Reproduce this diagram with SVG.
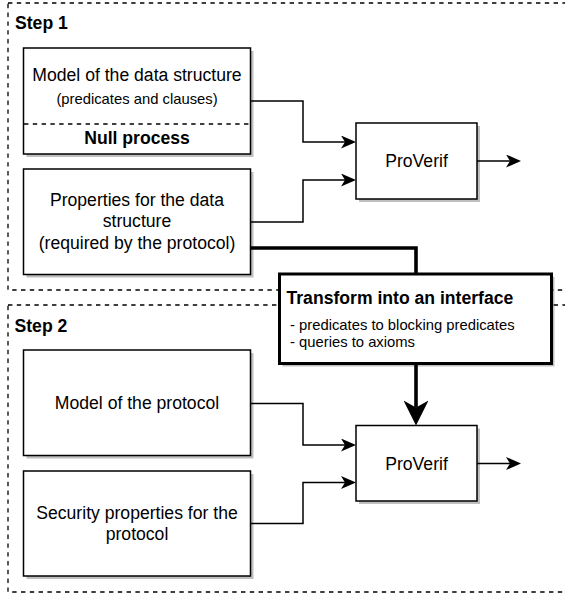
<svg xmlns="http://www.w3.org/2000/svg" width="565" height="594" viewBox="0 0 565 594">
<style>
  text { font-family: "Liberation Sans", Arial, sans-serif; fill: #000; }
  .t { font-size: 17.6px; text-anchor: middle; }
  .s { font-size: 14.8px; text-anchor: middle; }
  .b { font-weight: bold; }
  .box { fill: #fff; stroke: #000; stroke-width: 1.5; }
  .shadow { fill: #000; fill-opacity: 0.25; }
  .cont { fill: none; stroke: #000; stroke-width: 1.3; stroke-dasharray: 4.4 4.4; }
  .thin { fill: none; stroke: #000; stroke-width: 1.5; }
  .thick { fill: none; stroke: #000; stroke-width: 3.6; }
</style>
<defs>
  <marker id="arr" markerUnits="userSpaceOnUse" markerWidth="15" markerHeight="13" viewBox="0 0 15 13" refX="4" refY="6.5" orient="auto">
    <path d="M0,0 L15,6.5 L0,13 L4,6.5 Z" fill="#000"/>
  </marker>
  <marker id="arrBig" markerUnits="userSpaceOnUse" markerWidth="25" markerHeight="25" viewBox="0 0 25 25" refX="7" refY="12.5" orient="auto">
    <path d="M0,0 L25,12.5 L0,25 L7,12.5 Z" fill="#000"/>
  </marker>
</defs>
<rect width="565" height="594" fill="#fff"/>

<g id="step1">
  <rect class="cont" x="8" y="3" width="600" height="287"/>
  <text class="b" x="15" y="28.5" font-size="17.6px">Step 1</text>
</g>
<g id="step2">
  <rect class="cont" x="8" y="305" width="600" height="287"/>
  <text class="b" x="14.5" y="331.5" font-size="17.6px">Step 2</text>
</g>

<g id="model-data-structure">
  <rect class="shadow" x="26.5" y="51" width="227" height="106"/>
  <rect class="box" x="23.5" y="48" width="227" height="106"/>
  <line x1="24" y1="124" x2="250" y2="124" stroke="#000" stroke-width="1.3" stroke-dasharray="4.4 4.4"/>
  <text class="t" x="137" y="81">Model of the data structure</text>
  <text class="s" x="137" y="103.5">(predicates and clauses)</text>
  <text class="t b" x="137" y="143.5">Null process</text>
</g>

<g id="properties-data-structure">
  <rect class="shadow" x="26.5" y="172" width="227" height="105.5"/>
  <rect class="box" x="23.5" y="169" width="227" height="105.5"/>
  <text class="t" x="137" y="205.5">Properties for the data</text>
  <text class="t" x="137" y="227">structure</text>
  <text class="t" x="137" y="248.5">(required by the protocol)</text>
</g>

<g id="proverif1">
  <rect class="shadow" x="359" y="126" width="121" height="76"/>
  <rect class="box" x="356" y="123" width="121" height="76"/>
  <text class="t" x="416.5" y="167">ProVerif</text>
</g>

<g id="model-protocol">
  <rect class="shadow" x="26.5" y="353" width="227" height="105.5"/>
  <rect class="box" x="23.5" y="350" width="227" height="105.5"/>
  <text class="t" x="137" y="409">Model of the protocol</text>
</g>

<g id="security-properties">
  <rect class="shadow" x="26.5" y="474" width="227" height="105"/>
  <rect class="box" x="23.5" y="471" width="227" height="105"/>
  <text class="t" x="137" y="518.5">Security properties for the</text>
  <text class="t" x="137" y="540">protocol</text>
</g>

<g id="proverif2">
  <rect class="shadow" x="359" y="428.5" width="121" height="75.5"/>
  <rect class="box" x="356" y="425.5" width="121" height="75.5"/>
  <text class="t" x="416.5" y="469.5">ProVerif</text>
</g>

<g id="connectors">
  <path class="thin" d="M250.5 101 H303 V142 H345" marker-end="url(#arr)"/>
  <path class="thin" d="M250.5 222 H303 V180 H345" marker-end="url(#arr)"/>
  <path class="thin" d="M477 161 H510" marker-end="url(#arr)"/>
  <path class="thin" d="M250.5 403.5 H303 V445 H345" marker-end="url(#arr)"/>
  <path class="thin" d="M250.5 523.5 H303 V482.5 H345" marker-end="url(#arr)"/>
  <path class="thin" d="M477 463.5 H510" marker-end="url(#arr)"/>
  <path class="thick" d="M250.5 248 H416 V274"/>
  <path class="thick" d="M416 364 V407.5" marker-end="url(#arrBig)"/>
</g>

<g id="transform">
  <rect class="shadow" x="282.5" y="277" width="272" height="89.5"/>
  <rect x="279.5" y="274" width="272" height="89.5" fill="#fff" stroke="#000" stroke-width="3"/>
  <text class="b" x="286.5" y="303.5" font-size="17.6px">Transform into an interface</text>
  <text x="290" y="330" font-size="14.8px">- predicates to blocking predicates</text>
  <text x="290" y="347" font-size="14.8px">- queries to axioms</text>
</g>
</svg>
